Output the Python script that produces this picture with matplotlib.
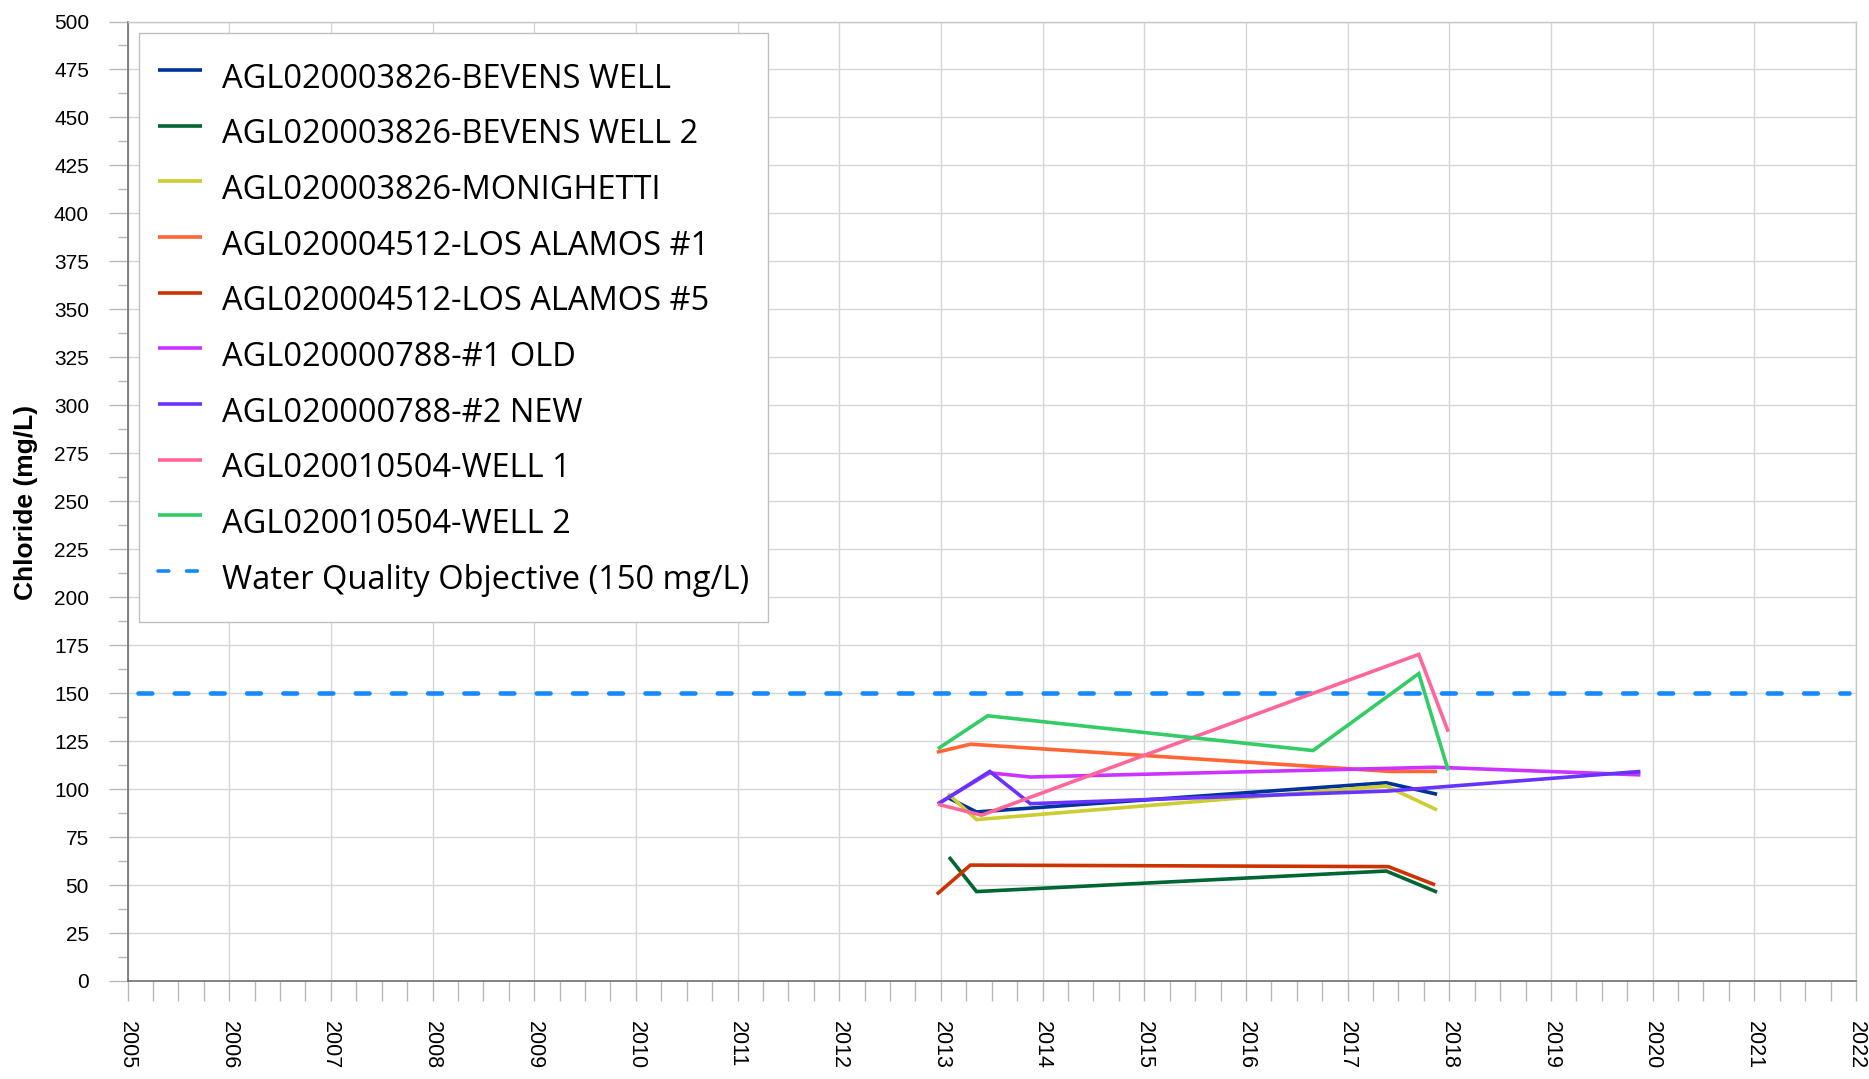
import matplotlib
matplotlib.use("Agg")
import matplotlib.pyplot as plt
import matplotlib.transforms as mtransforms
from matplotlib.ticker import MultipleLocator, FixedLocator

# ---------------- data (decimal years, mg/L) ----------------
bevens_x = [2013.07, 2013.35, 2017.38, 2017.88]
bevens_y = [95.5, 88.1, 103.3, 97.3]

bevens2_x = [2013.08, 2013.35, 2017.38, 2017.88]
bevens2_y = [64.6, 46.6, 57.3, 46.3]

monig_x = [2013.07, 2013.35, 2017.38, 2017.88]
monig_y = [97.6, 84.1, 101.6, 89.1]

la1_x = [2012.96, 2013.29, 2017.42, 2017.88]
la1_y = [119.2, 123.4, 109.2, 109.2]

la5_x = [2012.96, 2013.29, 2017.40, 2017.86]
la5_y = [45.2, 60.4, 59.6, 50.1]

old1_x = [2012.97, 2013.48, 2013.88, 2017.86, 2019.88]
old1_y = [92.4, 108.5, 106.3, 111.4, 107.4]

new2_x = [2012.97, 2013.48, 2013.88, 2017.40, 2019.88]
new2_y = [92.1, 109.2, 92.4, 99.0, 109.2]

well1_x = [2012.97, 2013.40, 2017.70, 2017.99]
well1_y = [92.1, 86.4, 170.2, 129.9]

well2_x = [2012.97, 2013.46, 2016.66, 2017.70, 2017.99]
well2_y = [121.0, 138.2, 120.1, 160.2, 109.7]

wqo_x = [2005.1, 2021.93]
wqo_y = [150, 150]

labels = [
    "AGL020003826-BEVENS WELL",
    "AGL020003826-BEVENS WELL 2",
    "AGL020003826-MONIGHETTI",
    "AGL020004512-LOS ALAMOS #1",
    "AGL020004512-LOS ALAMOS #5",
    "AGL020000788-#1 OLD",
    "AGL020000788-#2 NEW",
    "AGL020010504-WELL 1",
    "AGL020010504-WELL 2",
]
wqo_label = "Water Quality Objective (150 mg/L)"
colors = ["#003399", "#006633", "#cccc33", "#ff6633", "#cc3300",
          "#cc33ff", "#6633ff", "#ff6699", "#33cc66"]
wqo_color = "#1589ff"

year_ticks = list(range(2005, 2023))
y_ticks = list(range(0, 501, 25))

series = [(bevens_x, bevens_y), (bevens2_x, bevens2_y), (monig_x, monig_y),
          (la1_x, la1_y), (la5_x, la5_y), (old1_x, old1_y), (new2_x, new2_y),
          (well1_x, well1_y), (well2_x, well2_y)]

# ---------------- figure ----------------
W, H = 1869, 1079
fig = plt.figure(figsize=(W / 100, H / 100), dpi=100)
ax = fig.add_axes([127.5 / W, 1 - 981 / H, (1856 - 127.5) / W, (981 - 21.5) / H])

for (xs, ys), lab, c in zip(series, labels, colors):
    ax.plot(xs, ys, color=c, lw=2.6, label=lab, solid_capstyle="butt",
            solid_joinstyle="miter", zorder=3)

ax.plot(wqo_x, wqo_y, color=wqo_color, lw=3.3, linestyle=(0, (3.0, 4.9)),
        dash_capstyle="round", label=wqo_label, zorder=2)

ax.set_xlim(2005, 2022)
ax.set_ylim(0, 500)

ax.xaxis.set_major_locator(FixedLocator(year_ticks))
ax.xaxis.set_minor_locator(MultipleLocator(0.25))
ax.tick_params(axis="x", which="both", labelbottom=False)
# year labels, rotated to read top-to-bottom, placed 40 px below the axis
lab_tr = mtransforms.blended_transform_factory(ax.transData, ax.transAxes) + \
    mtransforms.ScaledTranslation(0, -0.40, fig.dpi_scale_trans)
for yr in year_ticks:
    ax.text(yr, 0, str(yr), transform=lab_tr, rotation=270,
            rotation_mode="default", ha="center", va="top",
            family="Liberation Sans", fontsize=15.5, clip_on=False)

ax.yaxis.set_major_locator(FixedLocator(y_ticks))
ax.yaxis.set_minor_locator(MultipleLocator(12.5))
ax.set_yticklabels([str(v) for v in y_ticks], family="Liberation Sans", fontsize=15)

tick_col = "#b8b8b8"
ax.tick_params(axis="x", which="both", length=14.4, width=1, color=tick_col)
ax.tick_params(axis="y", which="major", length=13.7, width=1, color=tick_col,
               pad=14, labelcolor="black")
ax.tick_params(axis="y", which="minor", length=7.2, width=1, color=tick_col)

ax.grid(True, which="major", color="#d6d6d6", lw=1)
ax.set_axisbelow(True)
for s in ["left", "bottom"]:
    ax.spines[s].set_color("#707070")
    ax.spines[s].set_linewidth(1.2)
for s in ["top", "right"]:
    ax.spines[s].set_color("#c8c8c8")
    ax.spines[s].set_linewidth(1)

fig.text(26 / W, 1 - 502 / H, "Chloride (mg/L)", rotation=90, ha="center",
         va="center", family="Liberation Sans", fontweight="bold", fontsize=19)

leg = ax.legend(loc="upper left", prop={"family": "Open Sans", "size": 23.5},
                frameon=True, fancybox=False, framealpha=1, edgecolor="#c0c0c0",
                borderaxespad=0.36, borderpad=0.58, handlelength=1.33,
                handleheight=2.0, handletextpad=0.62, labelspacing=0.16)
leg.get_frame().set_linewidth(1)
for h in leg.get_lines():
    h.set_linewidth(2.6)

fig.savefig("out.png", dpi=100)
